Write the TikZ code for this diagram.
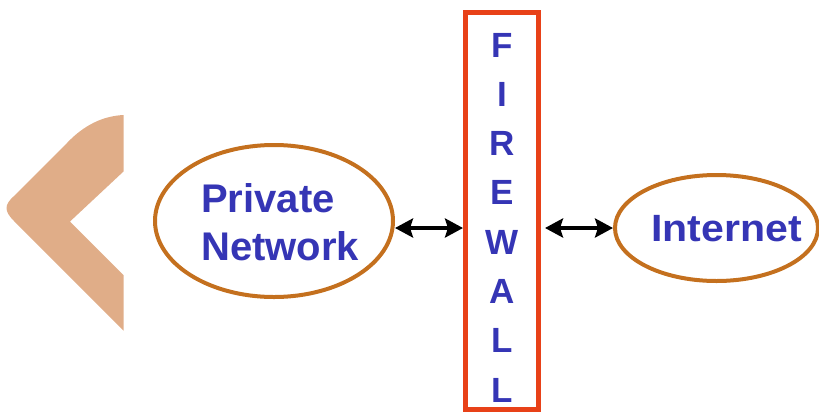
\documentclass[tikz,border=0pt]{standalone}
\usepackage{fontspec}
\setmainfont{Liberation Sans}
\usetikzlibrary{shapes.geometric,arrows.meta}
\definecolor{chev}{HTML}{E0AD88}
\definecolor{txtblue}{HTML}{3535B5}
\definecolor{ellc}{HTML}{C4701E}
\definecolor{fwred}{HTML}{E84118}
\tikzset{
  oval/.style={ellipse, draw=ellc, line width=4pt, inner sep=0pt},
  bigtxt/.style={text=txtblue, font=\fontsize{40}{47}\selectfont\bfseries, inner sep=0pt, anchor=base west},
  fwletter/.style={text=txtblue, font=\fontsize{35}{40}\selectfont\bfseries, inner sep=0pt, anchor=base},
  fwbox/.style={draw=fwred, line width=5pt, inner sep=0pt},
  arr/.style={draw=black, line width=4.5pt, arrows={Stealth[length=18pt,width=19pt,inset=3pt]-Stealth[length=18pt,width=19pt,inset=3pt]}}
}
\begin{document}
\begin{tikzpicture}[x=1pt,y=-1pt]
\useasboundingbox (0,0) rectangle (819,413);
% chevron
\fill[chev] (123.5,115) .. controls (103,116) and (84,125) .. (67,143)
  -- (14,196) .. controls (4,205) and (4,211) .. (14,221)
  -- (123.5,330.5) -- (123.5,275) -- (70,221.5) -- (123.5,171.5) -- cycle;
% ellipses
\node[oval, minimum width=238pt, minimum height=152pt] (pn) at (274,221) {};
\node[oval, minimum width=203pt, minimum height=106pt] (inet) at (716.5,228) {};
\node[bigtxt] (pn1) at (201,212) {Private};
\node[bigtxt] (pn2) at (201,260) {Network};
\node[bigtxt, font=\fontsize{38}{44}\selectfont\bfseries] (inettxt) at (651,241.5) {\scalebox{1.08}[1]{Internet}};
% firewall
\node[fwbox, minimum width=73pt, minimum height=397pt] (fw) at (502,211) {};
\foreach \l [count=\i from 0] in {F,I,R,E,W,A,L,L}{
  \node[fwletter] (fl\i) at (502,57+49.3*\i) {\l};
}
% arrows
\draw[arr] (pn.east |- inet.west) -- (fw.west |- inet.west);
\draw[arr, shorten <=4pt] (fw.east |- inet.west) -- (inet.west);
\end{tikzpicture}
\end{document}
